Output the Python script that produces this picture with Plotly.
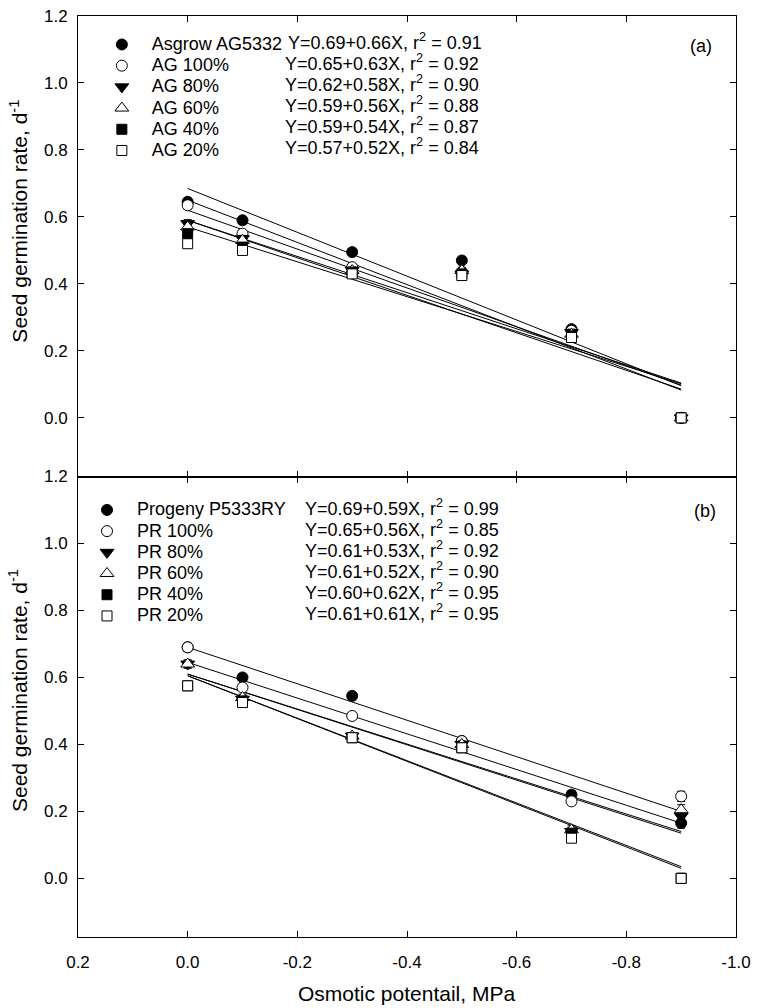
import plotly.graph_objects as go

# ---------------- data ----------------
x_levels = [0.0, -0.1, -0.3, -0.5, -0.7, -0.9]
line_x = [0.0, -0.9]

# Panel (a)
names_a = ["Asgrow AG5332", "AG 100%", "AG 80%", "AG 60%", "AG 40%", "AG 20%"]
eq_a = ["Y=0.69+0.66X, r<sup>2</sup> = 0.91",
        "Y=0.65+0.63X, r<sup>2</sup> = 0.92",
        "Y=0.62+0.58X, r<sup>2</sup> = 0.90",
        "Y=0.59+0.56X, r<sup>2</sup> = 0.88",
        "Y=0.59+0.54X, r<sup>2</sup> = 0.87",
        "Y=0.57+0.52X, r<sup>2</sup> = 0.84"]
asgrow = [0.645, 0.59, 0.495, 0.47, 0.265, 0.0]
ag100 = [0.635, 0.55, 0.45, 0.435, 0.26, 0.0]
ag80 = [0.58, 0.535, 0.44, 0.43, 0.255, 0.0]
ag60 = [0.57, 0.53, 0.44, 0.44, 0.25, 0.0]
ag40 = [0.55, 0.51, 0.435, 0.43, 0.245, 0.0]
ag20 = [0.52, 0.50, 0.43, 0.425, 0.24, 0.0]
err_a = [0.012, 0.01, 0.01, 0.01, 0.01, 0.012]
line_a_start = [0.685, 0.65, 0.62, 0.59, 0.59, 0.57]
line_a_end = [0.096, 0.083, 0.098, 0.086, 0.104, 0.102]

# Panel (b)
names_b = ["Progeny P5333RY", "PR 100%", "PR 80%", "PR 60%", "PR 40%", "PR 20%"]
eq_b = ["Y=0.69+0.59X, r<sup>2</sup> = 0.99",
        "Y=0.65+0.56X, r<sup>2</sup> = 0.85",
        "Y=0.61+0.53X, r<sup>2</sup> = 0.92",
        "Y=0.61+0.52X, r<sup>2</sup> = 0.90",
        "Y=0.60+0.62X, r<sup>2</sup> = 0.95",
        "Y=0.61+0.61X, r<sup>2</sup> = 0.95"]
progeny = [0.69, 0.60, 0.545, 0.41, 0.25, 0.165]
pr100 = [0.69, 0.57, 0.485, 0.41, 0.23, 0.245]
pr80 = [0.64, 0.535, 0.425, 0.40, 0.14, 0.185]
pr60 = [0.64, 0.54, 0.425, 0.40, 0.145, 0.205]
pr40 = [0.575, 0.53, 0.42, 0.39, 0.135, 0.0]
pr20 = [0.575, 0.525, 0.42, 0.39, 0.12, 0.0]
err_b = [0.012, 0.01, 0.01, 0.01, 0.012, 0.015]
line_b_start = [0.69, 0.645, 0.61, 0.61, 0.605, 0.605]
line_b_end = [0.20, 0.165, 0.135, 0.14, 0.035, 0.03]

x_tick_vals = [0.2, 0.0, -0.2, -0.4, -0.6, -0.8, -1.0]
x_tick_text = ["0.2", "0.0", "-0.2", "-0.4", "-0.6", "-0.8", "-1.0"]
y_tick_vals = [0.0, 0.2, 0.4, 0.6, 0.8, 1.0, 1.2]
y_tick_text = ["0.0", "0.2", "0.4", "0.6", "0.8", "1.0", "1.2"]

# ---------------- styles ----------------
FONT = "Arial, 'Liberation Sans', sans-serif"
symbols = ["circle", "circle", "triangle-down", "triangle-up", "square", "square"]
fills = ["black", "white", "black", "white", "black", "white"]
sizes = [11, 11, 12, 12, 10, 10]

fig = go.Figure()


def add_panel(names, series, err, l0, l1, xa, ya, legend_name):
    # regression lines
    for s0, s1 in zip(l0, l1):
        fig.add_trace(go.Scatter(x=line_x, y=[s0, s1], mode="lines",
                                 line=dict(color="black", width=1),
                                 xaxis=xa, yaxis=ya, showlegend=False, hoverinfo="skip"))
    for i, (nm, ys) in enumerate(zip(names, series)):
        fig.add_trace(go.Scatter(
            x=x_levels, y=ys, mode="markers",
            name='<span style="font-size:18px">' + nm + '</span>',
            marker=dict(symbol=symbols[i], size=sizes[i],
                        color=fills[i], line=dict(color="black", width=1)),
            error_y=dict(type="data", array=err, width=4, thickness=1, color="black"),
            xaxis=xa, yaxis=ya, legend=legend_name))


add_panel(names_a, [asgrow, ag100, ag80, ag60, ag40, ag20], err_a,
          line_a_start, line_a_end, "x", "y", "legend")
add_panel(names_b, [progeny, pr100, pr80, pr60, pr40, pr20], err_b,
          line_b_start, line_b_end, "x2", "y2", "legend2")

# ---------------- layout ----------------
W, H = 758, 1008
ML, MR, MT, MB = 78, 15, 7, 71
PW, PH = W - ML - MR, H - MT - MB


def px(xp):
    return (xp - ML) / PW


def py(yp):
    return 1 - (yp - MT) / PH


axis_common = dict(showline=True, linecolor="black", linewidth=1, mirror="ticks",
                   ticks="inside", ticklen=6, tickcolor="black", showgrid=False,
                   zeroline=False, ticklabeloverflow="allow",
                   tickfont=dict(family=FONT, size=17, color="black"))

ROW = 21.2
fig.update_layout(
    width=W, height=H, margin=dict(l=ML, r=MR, t=MT, b=MB),
    paper_bgcolor="white", plot_bgcolor="white",
    font=dict(family=FONT, color="black"),
    xaxis=dict(domain=[0, 1], range=[0.2, -1.0], anchor="y", tickvals=x_tick_vals,
               ticktext=x_tick_text, showticklabels=False, **axis_common),
    yaxis=dict(domain=[0.5, 1], range=[-0.175, 1.2], anchor="x", tickvals=y_tick_vals,
               ticktext=y_tick_text, ticklabelstandoff=6, **axis_common),
    xaxis2=dict(domain=[0, 1], range=[0.2, -1.0], anchor="y2", tickvals=x_tick_vals,
                ticktext=x_tick_text, ticklabelstandoff=10, **axis_common),
    yaxis2=dict(domain=[0, 0.5], range=[-0.175, 1.2], anchor="x2", tickvals=y_tick_vals,
                ticktext=y_tick_text, ticklabelstandoff=6, **axis_common),
    legend=dict(x=px(92), y=py(20), xanchor="left", yanchor="top",
                bgcolor="rgba(0,0,0,0)", borderwidth=0, itemwidth=50,
                font=dict(family=FONT, size=14, color="black"), tracegroupgap=0),
    legend2=dict(x=px(77), y=py(490), xanchor="left", yanchor="top",
                 bgcolor="rgba(0,0,0,0)", borderwidth=0, itemwidth=50,
                 font=dict(family=FONT, size=14, color="black"), tracegroupgap=0),
)

annots = []
for i, t in enumerate(eq_a):
    if i == 0:
        annots.append(dict(x=px(288), y=py(33), xref="paper", yref="paper",
                           text=t, showarrow=False, xanchor="left", yanchor="middle",
                           font=dict(family=FONT, size=18)))
    else:
        annots.append(dict(x=px(485), y=py(33 + ROW * i), xref="paper", yref="paper",
                           text=t, showarrow=False, xanchor="right", yanchor="middle",
                           font=dict(family=FONT, size=18)))
for i, t in enumerate(eq_b):
    annots.append(dict(x=px(305), y=py(503 + ROW * i), xref="paper", yref="paper",
                       text=t, showarrow=False, xanchor="left", yanchor="middle",
                       font=dict(family=FONT, size=18)))
annots.append(dict(x=px(708), y=py(37), xref="paper", yref="paper", text="(a)",
                   xanchor="center", yanchor="middle",
                   showarrow=False, font=dict(family=FONT, size=18)))
annots.append(dict(x=px(712), y=py(507), xref="paper", yref="paper", text="(b)",
                   xanchor="center", yanchor="middle",
                   showarrow=False, font=dict(family=FONT, size=18)))
for yc in (214, 688):
    annots.append(dict(x=px(18), y=py(yc), xref="paper", yref="paper",
                       text="Seed germination rate, d<sup>-1</sup>", textangle=-90,
                       xanchor="center", yanchor="middle",
                       showarrow=False, font=dict(family=FONT, size=21)))
annots.append(dict(x=px(410), y=py(994), xref="paper", yref="paper",
                   text="Osmotic potentail, MPa", showarrow=False,
                   xanchor="center", yanchor="middle",
                   font=dict(family=FONT, size=21)))
fig.update_layout(annotations=annots)

fig.write_html("out.html", config={"displayModeBar": False},
               post_script="document.body.style.margin='0';document.body.style.overflow='hidden';")
